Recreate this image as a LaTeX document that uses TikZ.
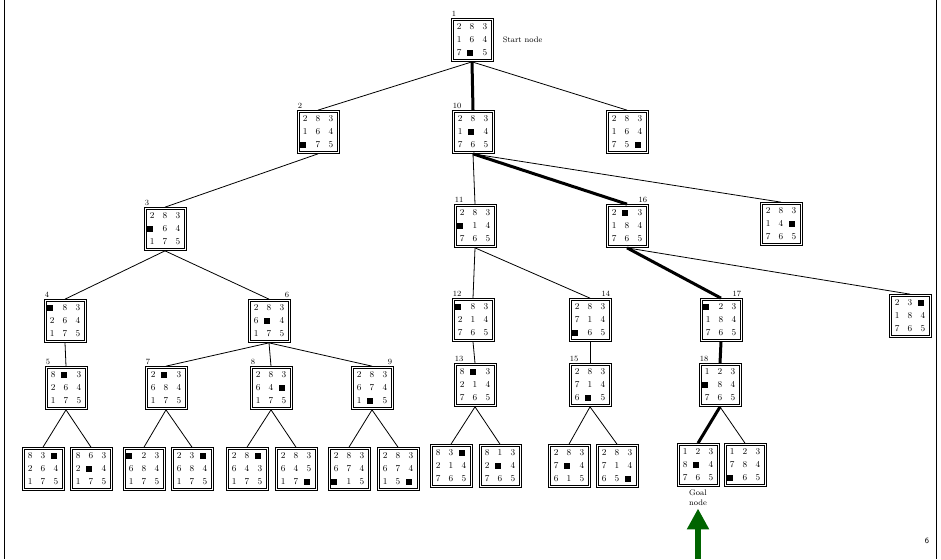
\documentclass[tikz,border=0pt]{standalone}
\usetikzlibrary{positioning,arrows.meta}
\definecolor{arrowgreen}{RGB}{0,100,0}
\newcommand{\bl}{\makebox[0pt]{\rule[-0.2pt]{6pt}{6pt}}\phantom{0}}
\newcommand{\puzz}[9]{{\renewcommand{\arraystretch}{1.2}%
  \begin{tabular}{@{}c@{\hspace{8.3pt}}c@{\hspace{8.3pt}}c@{}}#1&#2&#3\\#4&#5&#6\\#7&#8&#9\end{tabular}}}
\tikzset{
  board/.style={draw, line width=0.7pt, minimum width=42pt, minimum height=43pt,
    inner sep=0pt, font=\small,
    path picture={\draw[line width=0.6pt]
      ([shift={(2.2pt,-2.2pt)}]path picture bounding box.north west) rectangle
      ([shift={(-2.2pt,2.2pt)}]path picture bounding box.south east);}},
  numl/.style={label={[font=\footnotesize,inner sep=1pt,anchor=south west]north west:#1}},
  numr/.style={label={[font=\footnotesize,inner sep=1pt,anchor=south east]north east:#1}},
  link/.style={line width=0.8pt},
  solpath/.style={line width=3pt}
}
\begin{document}
\begin{tikzpicture}[x=1pt,y=-1pt]
  \useasboundingbox (0,0) rectangle (941,559);
  \draw[line width=0.8pt] (4.5,0) -- (4.5,559) (936.5,0) -- (936.5,559);
  % level 0 and 1
  \node[board,numl=1] (n1) at (472,40) {\puzz283164{7}{\bl}5};
  \node[right=6pt of n1,font=\footnotesize] (start) {Start node};
  \node[board,numl=2] (n2) at (318,132) {\puzz283164{\bl}75};
  \node[board,numl=10] (n10) at (473,132) {\puzz2831{\bl}4765};
  \node[board] (n1c) at (627,132) {\puzz28316475{\bl}};
  % level 2
  \node[board,numl=3] (n3) at (165,229) {\puzz283{\bl}64175};
  \node[board,numl=11] (n11) at (475,226) {\puzz283{\bl}14765};
  \node[board,numr=16] (n16) at (627,226) {\puzz2{\bl}3184765};
  \node[board] (n10c) at (781,224) {\puzz28314{\bl}765};
  % level 3
  \node[board,numl=4] (n4) at (65,321) {\puzz{\bl}83264175};
  \node[board,numr=6] (n6) at (269,321) {\puzz2836{\bl}4175};
  \node[board,numl=12] (n12) at (473,320) {\puzz{\bl}83214765};
  \node[board,numr=14] (n14) at (590,320) {\puzz283714{\bl}65};
  \node[board,numr=17] (n17) at (721,320) {\puzz{\bl}23184765};
  \node[board] (n16c) at (910,316) {\puzz23{\bl}184765};
  % level 4
  \node[board,numl=5] (n5) at (66,388) {\puzz8{\bl}3264175};
  \node[board,numl=7] (n7) at (166,388) {\puzz2{\bl}3684175};
  \node[board,numl=8] (n8) at (271,388) {\puzz28364{\bl}175};
  \node[board,numr=9] (n9) at (372,388) {\puzz2836741{\bl}5};
  \node[board,numl=13] (n13) at (475,385) {\puzz8{\bl}3214765};
  \node[board,numl=15] (n15) at (590,385) {\puzz2837146{\bl}5};
  \node[board,numl=18] (n18) at (720,385) {\puzz123{\bl}84765};
  % level 5
  \node[board] (n5a) at (43,469) {\puzz83{\bl}264175};
  \node[board] (n5b) at (91,469) {\puzz8632{\bl}4175};
  \node[board] (n7a) at (144,469) {\puzz{\bl}23684175};
  \node[board] (n7b) at (192,469) {\puzz23{\bl}684175};
  \node[board] (n8a) at (247,469) {\puzz28{\bl}643175};
  \node[board] (n8b) at (296,469) {\puzz28364517{\bl}};
  \node[board] (n9a) at (349,469) {\puzz283674{\bl}15};
  \node[board] (n9b) at (398,469) {\puzz28367415{\bl}};
  \node[board] (n13a) at (451,466) {\puzz83{\bl}214765};
  \node[board] (n13b) at (500,466) {\puzz8132{\bl}4765};
  \node[board] (n15a) at (569,466) {\puzz2837{\bl}4615};
  \node[board] (n15b) at (617,466) {\puzz28371465{\bl}};
  \node[board] (goal) at (698,465) {\puzz1238{\bl}4765};
  \node[board] (n18b) at (745,465) {\puzz123784{\bl}65};
  \node[below=2pt of goal,align=center,font=\footnotesize,inner sep=1pt] (goallbl) {Goal\\node};
  \node[font=\sffamily\footnotesize] (page) at (927,541) {6};
  % tree edges
  \begin{scope}[link]
    \draw (n1.south) to (n2.north);
    \draw (n1.south) to (n1c.north);
    \draw (n2.south) to (n3.north);
    \draw (n10.south) to (n11.north);
    \draw (n10.south) to (n10c.north);
    \draw (n3.south) to (n4.north);
    \draw (n3.south) to (n6.north);
    \draw (n11.south) to (n12.north);
    \draw (n11.south) to (n14.north);
    \draw (n16.south) to (n16c.north);
    \draw (n4.south) to (n5.north);
    \draw (n6.south) to (n7.north);
    \draw (n6.south) to (n8.north);
    \draw (n6.south) to (n9.north);
    \draw (n12.south) to (n13.north);
    \draw (n14.south) to (n15.north);
    \draw (n5.south) to (n5a.north);
    \draw (n5.south) to (n5b.north);
    \draw (n7.south) to (n7a.north);
    \draw (n7.south) to (n7b.north);
    \draw (n8.south) to (n8a.north);
    \draw (n8.south) to (n8b.north);
    \draw (n9.south) to (n9a.north);
    \draw (n9.south) to (n9b.north);
    \draw (n13.south) to (n13a.north);
    \draw (n13.south) to (n13b.north);
    \draw (n15.south) to (n15a.north);
    \draw (n15.south) to (n15b.north);
    \draw (n18.south) to (n18b.north);
  \end{scope}
  % path to the goal
  \begin{scope}[solpath]
    \draw (n1.south) to (n10.north);
    \draw (n10.south) to (n16.north);
    \draw (n16.south) to (n17.north);
    \draw (n17.south) to (n18.north);
    \draw (n18.south) to (goal.north);
  \end{scope}
  \coordinate (arrowfoot) at (698,559);
  \draw[arrowgreen,line width=6pt,-{Triangle[width=21pt,length=21pt]},shorten >=2pt]
    (arrowfoot) -- (goallbl.south);
\end{tikzpicture}
\end{document}
